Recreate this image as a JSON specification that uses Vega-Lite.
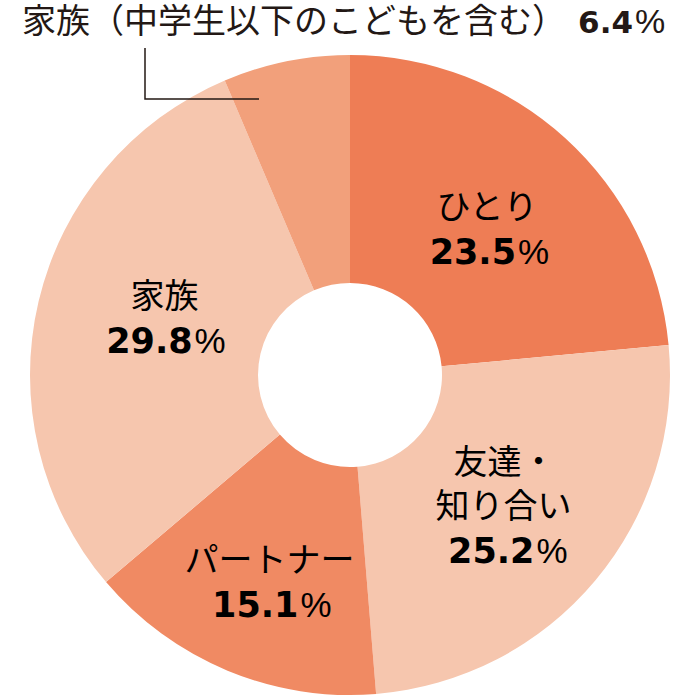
{
  "$schema": "https://vega.github.io/schema/vega-lite/v6.json",
  "width": 692,
  "height": 650,
  "padding": {"left": 4, "top": 50, "right": 0, "bottom": 0},
  "autosize": "none",
  "background": "white",
  "view": {"stroke": null},
  "config": {
    "font": "Noto Sans CJK JP",
    "style": {
      "nm": {"align": "center", "baseline": "bottom", "fontSize": 34, "fill": "#231815"},
      "num": {"align": "right", "baseline": "alphabetic", "font": "DejaVu Sans", "fontWeight": "bold", "fontSize": 35, "fill": "#231815"},
      "pc": {"align": "left", "baseline": "alphabetic", "font": "Liberation Sans", "fontSize": 35, "fill": "#231815"}
    }
  },
  "datasets": {
    "share": [
      {"i": 1, "label": "ひとり", "upper": "", "name": "ひとり", "pct": 23.5},
      {"i": 2, "label": "友達・知り合い", "upper": "友達・", "name": "知り合い", "pct": 25.2},
      {"i": 3, "label": "パートナー", "upper": "", "name": "パートナー", "pct": 15.1},
      {"i": 4, "label": "家族", "upper": "", "name": "家族", "pct": 29.8},
      {"i": 5, "label": "家族（中学生以下のこどもを含む）", "upper": "", "name": "", "pct": 6.4}
    ],
    "callout": [
      {"label": "家族（中学生以下のこどもを含む）", "pct": 6.4, "tx": 22, "nx": 633, "y": 33}
    ],
    "leader": [
      {"o": 1, "x": 145, "y": 48},
      {"o": 2, "x": 145, "y": 99},
      {"o": 3, "x": 259, "y": 99}
    ]
  },
  "layer": [
    {
      "data": {"name": "share"},
      "encoding": {
        "theta": {"field": "pct", "type": "quantitative", "stack": true},
        "order": {"field": "i", "type": "quantitative"}
      },
      "layer": [
        {
          "mark": {"type": "arc", "innerRadius": 92, "outerRadius": 320},
          "encoding": {
            "color": {
              "field": "label",
              "type": "nominal",
              "scale": {
                "domain": ["ひとり", "友達・知り合い", "パートナー", "家族", "家族（中学生以下のこどもを含む）"],
                "range": ["#EE7D55", "#F6C6AE", "#F08A63", "#F6C6AE", "#F2A07B"]
              },
              "legend": null
            }
          }
        },
        {
          "mark": {"type": "text", "style": "nm", "radius": 208, "dx": -3, "dy": 5},
          "encoding": {"text": {"condition": {"test": "datum.i === 1", "field": "name"}, "value": ""}}
        },
        {
          "mark": {"type": "text", "style": "num", "radius": 208, "dx": 26, "dy": 43},
          "encoding": {"text": {"condition": {"test": "datum.i === 1", "field": "pct", "type": "quantitative", "format": ".1f"}, "value": ""}}
        },
        {
          "mark": {"type": "text", "style": "pc", "radius": 208, "dx": 28, "dy": 43},
          "encoding": {"text": {"condition": {"test": "datum.i === 1", "value": "%"}, "value": ""}}
        },
        {
          "mark": {"type": "text", "style": "nm", "radius": 208, "dx": -5, "dy": -28},
          "encoding": {"text": {"condition": {"test": "datum.i === 2", "field": "upper"}, "value": ""}}
        },
        {
          "mark": {"type": "text", "style": "nm", "radius": 208, "dx": -6, "dy": 16},
          "encoding": {"text": {"condition": {"test": "datum.i === 2", "field": "name"}, "value": ""}}
        },
        {
          "mark": {"type": "text", "style": "num", "radius": 208, "dx": 25, "dy": 54},
          "encoding": {"text": {"condition": {"test": "datum.i === 2", "field": "pct", "type": "quantitative", "format": ".1f"}, "value": ""}}
        },
        {
          "mark": {"type": "text", "style": "pc", "radius": 208, "dx": 27, "dy": 54},
          "encoding": {"text": {"condition": {"test": "datum.i === 2", "value": "%"}, "value": ""}}
        },
        {
          "mark": {"type": "text", "style": "nm", "radius": 208, "dx": -1, "dy": 12},
          "encoding": {"text": {"condition": {"test": "datum.i === 3", "field": "name"}, "value": ""}}
        },
        {
          "mark": {"type": "text", "style": "num", "radius": 208, "dx": 28, "dy": 50},
          "encoding": {"text": {"condition": {"test": "datum.i === 3", "field": "pct", "type": "quantitative", "format": ".1f"}, "value": ""}}
        },
        {
          "mark": {"type": "text", "style": "pc", "radius": 208, "dx": 30, "dy": 50},
          "encoding": {"text": {"condition": {"test": "datum.i === 3", "value": "%"}, "value": ""}}
        },
        {
          "mark": {"type": "text", "style": "nm", "radius": 208, "dx": 17, "dy": -12},
          "encoding": {"text": {"condition": {"test": "datum.i === 4", "field": "name"}, "value": ""}}
        },
        {
          "mark": {"type": "text", "style": "num", "radius": 208, "dx": 45, "dy": 26},
          "encoding": {"text": {"condition": {"test": "datum.i === 4", "field": "pct", "type": "quantitative", "format": ".1f"}, "value": ""}}
        },
        {
          "mark": {"type": "text", "style": "pc", "radius": 208, "dx": 47, "dy": 26},
          "encoding": {"text": {"condition": {"test": "datum.i === 4", "value": "%"}, "value": ""}}
        }
      ]
    },
    {
      "data": {"name": "leader"},
      "mark": {"type": "line", "stroke": "#231815", "strokeWidth": 1.5},
      "encoding": {
        "x": {"field": "x", "type": "quantitative", "scale": {"domain": [0, 696], "range": [-4, 692]}, "axis": null},
        "y": {"field": "y", "type": "quantitative", "scale": {"domain": [0, 700], "range": [-50, 650]}, "axis": null},
        "order": {"field": "o", "type": "quantitative"}
      }
    },
    {
      "data": {"name": "callout"},
      "encoding": {
        "y": {"field": "y", "type": "quantitative", "scale": {"domain": [0, 700], "range": [-50, 650]}, "axis": null}
      },
      "layer": [
        {
          "mark": {"type": "text", "align": "left", "baseline": "alphabetic", "fontSize": 34, "fill": "#231815"},
          "encoding": {
            "x": {"field": "tx", "type": "quantitative", "scale": {"domain": [0, 696], "range": [-4, 692]}, "axis": null},
            "text": {"field": "label"}
          }
        },
        {
          "mark": {"type": "text", "align": "right", "baseline": "alphabetic",
                   "font": "DejaVu Sans", "fontWeight": "bold", "fontSize": 31, "fill": "#231815"},
          "encoding": {
            "x": {"field": "nx", "type": "quantitative", "scale": {"domain": [0, 696], "range": [-4, 692]}, "axis": null},
            "text": {"field": "pct", "type": "quantitative", "format": ".1f"}
          }
        },
        {
          "mark": {"type": "text", "align": "left", "baseline": "alphabetic", "dx": 2,
                   "font": "Liberation Sans", "fontSize": 34, "fill": "#231815"},
          "encoding": {
            "x": {"field": "nx", "type": "quantitative", "scale": {"domain": [0, 696], "range": [-4, 692]}, "axis": null},
            "text": {"value": "%"}
          }
        }
      ]
    }
  ]
}
